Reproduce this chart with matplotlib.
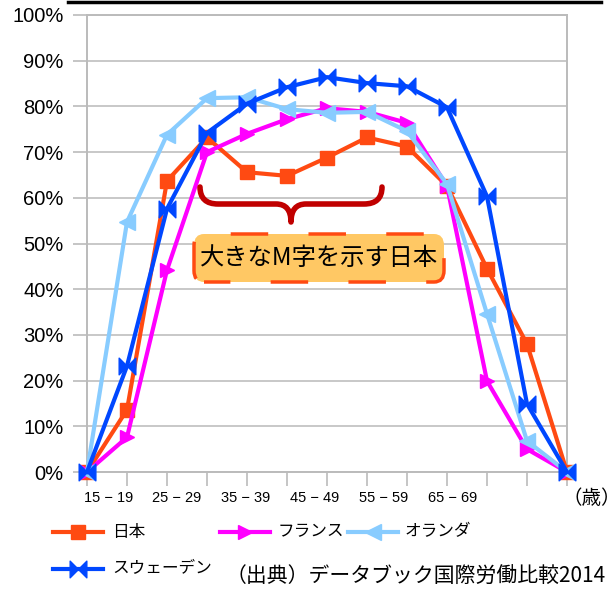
import matplotlib
matplotlib.use("Agg")
import matplotlib.pyplot as plt
from matplotlib.path import Path
from matplotlib.patches import PathPatch, FancyBboxPatch
from matplotlib.lines import Line2D

plt.rcParams['font.family'] = ['Liberation Sans', 'Noto Sans CJK JP']
plt.rcParams['lines.scale_dashes'] = False

# ---- data ----
age_groups = ["10-14", "15-19", "20-24", "25-29", "30-34", "35-39", "40-44",
              "45-49", "50-54", "55-59", "60-64", "65-69", "70-"]
japan = [0, 13.6, 63.7, 73.2, 65.6, 64.8, 68.8, 73.2, 71.2, 62.6, 44.5, 28.0, 0]
france = [0, 7.6, 44.2, 70.0, 74.0, 77.2, 79.6, 78.8, 76.4, 62.6, 19.9, 5.0, 0]
netherlands = [0, 54.7, 73.8, 81.8, 82.0, 79.4, 78.6, 78.8, 74.6, 63.0, 34.6, 6.8, 0]
sweden = [0, 23.2, 57.6, 74.2, 80.6, 84.2, 86.4, 85.1, 84.4, 79.8, 60.3, 14.9, 0]
series_names = ["日本", "フランス", "オランダ", "スウェーデン"]
x_labels = ["15 − 19", "25 − 29", "35 − 39", "45 − 49", "55 − 59", "65 − 69"]
y_ticks = [0, 10, 20, 30, 40, 50, 60, 70, 80, 90, 100]
annotation = "大きなM字を示す日本"
unit_label = "（歳）"
source = "（出典）データブック国際労働比較2014"

# ---- styles ----
colors = ["#FF4A12", "#FF00FF", "#88CCFF", "#0047FF"]
bowtie = Path([(-1, -1), (-1, 1), (0, 0), (-1, -1), (1, -1), (1, 1), (0, 0), (1, -1)],
              [Path.MOVETO, Path.LINETO, Path.LINETO, Path.CLOSEPOLY,
               Path.MOVETO, Path.LINETO, Path.LINETO, Path.CLOSEPOLY])
markers = ["s", ">", "<", bowtie]
msizes = [10, 10, 11, 12]

W, H = 609, 589
fig = plt.figure(figsize=(W / 100, H / 100), dpi=100)
L, R, T, B = 87, 567, 15, 472
ax = fig.add_axes([L / W, 1 - B / H, (R - L) / W, (B - T) / H])

x = list(range(len(age_groups)))
for vals, c, m, ms in zip([japan, france, netherlands, sweden], colors, markers, msizes):
    ax.plot(x, vals, color=c, lw=3, marker=m, markersize=ms, markeredgecolor=c,
            markerfacecolor=c, zorder=3, clip_on=False)

ax.set_xlim(0, len(age_groups) - 1)
ax.set_ylim(0, 100)
ax.set_yticks(y_ticks)
ax.set_yticklabels([f"{v}%" for v in y_ticks], fontsize=14.5)
ax.set_xticks(x)
ax.set_xticklabels([])
ax.tick_params(axis='y', length=10, width=1.2, color="#BBBBBB", pad=7)
ax.tick_params(axis='x', length=10, width=1.2, color="#BBBBBB")
ax.yaxis.grid(True, color="#C8C8C8", lw=1.4, zorder=0)
ax.set_axisbelow(True)
for s in ax.spines.values():
    s.set_color("#BBBBBB")
    s.set_linewidth(1.4)

# x labels (as drawn in reference, offset from ticks)
label_pos = [0.55, 2.25, 3.975, 5.7, 7.425, 9.15]
for p, t in zip(label_pos, x_labels):
    ax.text(p, -5.7, t, ha='center', va='center', fontsize=10.5, clip_on=False)

def fx(px):
    return px / W

def fy(py):
    return 1 - py / H

fig.text(fx(563), fy(498), unit_label, ha='left', va='center', fontsize=14,
         family=['Noto Sans CJK JP'])

# top black rule
fig.add_artist(Line2D([fx(68), fx(601)], [fy(1.5), fy(1.5)], color='black', lw=2.5,
                      transform=fig.transFigure))

# brace
def d(px, py):
    return ((px - L) / (R - L) * (len(age_groups) - 1), (B - py) / (B - T) * 100)

verts = [d(200, 187), d(200, 204), d(218, 204), d(276, 204), d(291, 204), d(291, 222),
         d(291, 204), d(306, 204), d(364, 204), d(382, 204), d(382, 187)]
codes = [Path.MOVETO, Path.CURVE3, Path.CURVE3, Path.LINETO, Path.CURVE3, Path.CURVE3,
         Path.CURVE3, Path.CURVE3, Path.LINETO, Path.CURVE3, Path.CURVE3]
ax.add_patch(PathPatch(Path(verts, codes), fill=False, edgecolor="#C00000", lw=4,
                       capstyle='round', joinstyle='round', zorder=5, clip_on=False))

# annotation box
x0, y0 = d(194, 282)
x1, y1 = d(444, 234)
box = FancyBboxPatch((x0, y0), x1 - x0, y1 - y0,
                     boxstyle="round,pad=0,rounding_size=0.25",
                     mutation_aspect=10,
                     facecolor="#FFC864", edgecolor="#FF4A12", lw=2.5,
                     linestyle=(8, (27, 29)), zorder=6, clip_on=False)
ax.add_patch(box)
cx, cy = d(319, 258)
ax.text(cx, cy, annotation, ha='center', va='center', fontsize=17.5,
        family=['Noto Sans CJK JP'], zorder=7)

# legend (manual)
leg = [(0, 53, 532, 112), (1, 220, 532, 278), (2, 348, 532, 405), (3, 53, 569, 112)]
for i, lx, ly, tx in leg:
    fig.add_artist(Line2D([fx(lx), fx(lx + 50)], [fy(ly), fy(ly)], color=colors[i], lw=3,
                          transform=fig.transFigure))
    fig.add_artist(Line2D([fx(lx + 25)], [fy(ly)], color=colors[i], marker=markers[i],
                          markersize=msizes[i], markerfacecolor=colors[i],
                          markeredgecolor=colors[i], transform=fig.transFigure))
    fig.text(fx(tx), fy(ly), series_names[i], ha='left', va='center', fontsize=12,
             family=['Noto Sans CJK JP'])

fig.text(fx(226), fy(577), source, ha='left', va='center', fontsize=15,
         family=['Noto Sans CJK JP', 'Liberation Sans'])

fig.savefig("out.png", dpi=100)
